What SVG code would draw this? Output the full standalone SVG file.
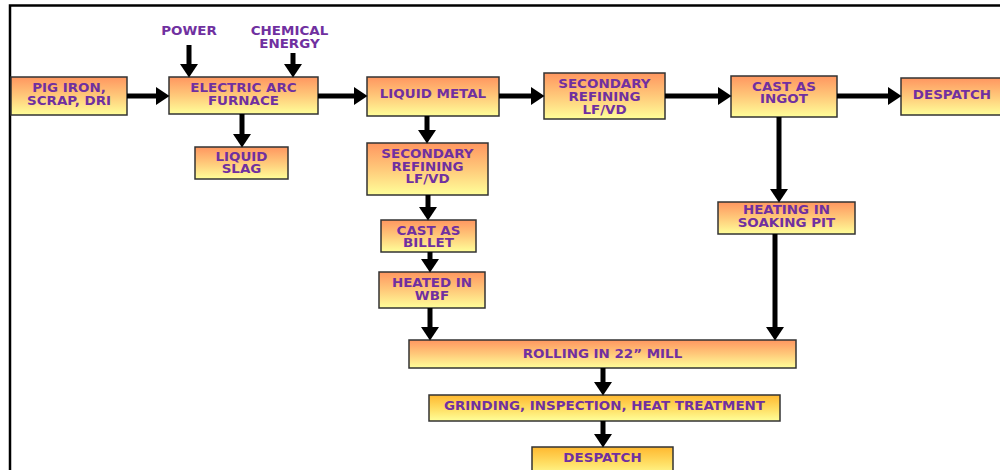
<svg xmlns="http://www.w3.org/2000/svg" width="1000" height="470" viewBox="0 0 1000 470">
<defs>
<linearGradient id="g1" x1="0" y1="0" x2="0" y2="1">
<stop offset="0" stop-color="#FF9660"/>
<stop offset="0.5" stop-color="#FFC97A"/>
<stop offset="1" stop-color="#FFFF99"/>
</linearGradient>
<linearGradient id="g2" x1="0" y1="0" x2="0" y2="1">
<stop offset="0" stop-color="#FFB830"/>
<stop offset="0.5" stop-color="#FFDC60"/>
<stop offset="1" stop-color="#FFFF99"/>
</linearGradient>
<marker id="ah" markerUnits="userSpaceOnUse" markerWidth="14" markerHeight="18" refX="0" refY="9" orient="auto" viewBox="0 0 14 18">
<path d="M0,0 L13.5,9 L0,18 z" fill="#000"/>
</marker>
<style>
.box{fill:url(#g1);stroke:#333;stroke-width:1.5}
.box2{fill:url(#g2);stroke:#333;stroke-width:1.5}
text{font-family:"DejaVu Sans",Verdana,sans-serif;font-weight:bold;font-size:11.5px;fill:#7030A0;text-anchor:middle;transform-box:fill-box;transform-origin:center;transform:scaleX(1.17)}
.c line{stroke:#000;stroke-width:5;marker-end:url(#ah)}
</style>
</defs>
<rect width="1000" height="470" fill="#fff"/>
<path d="M10,470 V5.5 H1000" fill="none" stroke="#000" stroke-width="2.5"/>

<g id="power"><text x="189" y="35">POWER</text></g>
<g id="chemical"><text x="289.5" y="35">CHEMICAL</text><text x="289.5" y="48">ENERGY</text></g>

<g id="pig"><rect class="box" x="11" y="77" width="116" height="38"/><text x="69" y="92.5">PIG IRON,</text><text x="69" y="105.5">SCRAP, DRI</text></g>
<g id="eaf"><rect class="box" x="169" y="77" width="149" height="37"/><text x="243.5" y="92.5">ELECTRIC ARC</text><text x="243.5" y="105">FURNACE</text></g>
<g id="slag"><rect class="box" x="195" y="147" width="93" height="32"/><text x="241.5" y="161">LIQUID</text><text x="241.5" y="173.5">SLAG</text></g>
<g id="liquidmetal"><rect class="box" x="367" y="77" width="132" height="39"/><text x="433" y="98.5">LIQUID METAL</text></g>
<g id="secref1"><rect class="box" x="544" y="73" width="121" height="46"/><text x="604.5" y="88">SECONDARY</text><text x="604.5" y="101">REFINING</text><text x="604.5" y="114">LF/VD</text></g>
<g id="ingot"><rect class="box" x="731" y="76" width="106" height="41"/><text x="784" y="91">CAST AS</text><text x="784" y="103">INGOT</text></g>
<g id="despatch1"><rect class="box" x="901" y="78" width="104" height="37"/><text x="952" y="99">DESPATCH</text></g>
<g id="secref2"><rect class="box" x="367" y="143" width="121" height="52"/><text x="427.5" y="158.5">SECONDARY</text><text x="427.5" y="171">REFINING</text><text x="427.5" y="183.5">LF/VD</text></g>
<g id="soaking"><rect class="box" x="718" y="202" width="137" height="32"/><text x="786.5" y="214">HEATING IN</text><text x="786.5" y="227">SOAKING PIT</text></g>
<g id="billet"><rect class="box" x="381" y="220" width="95" height="32"/><text x="428.5" y="235">CAST AS</text><text x="428.5" y="247.5">BILLET</text></g>
<g id="wbf"><rect class="box" x="379" y="272" width="106" height="36"/><text x="432" y="287">HEATED IN</text><text x="432" y="300">WBF</text></g>
<g id="rolling"><rect class="box" x="409" y="340" width="387" height="28"/><text x="602.5" y="358">ROLLING IN 22” MILL</text></g>
<g id="grinding"><rect class="box2" x="429" y="395" width="351" height="26"/><text x="604.5" y="410">GRINDING, INSPECTION, HEAT TREATMENT</text></g>
<g id="despatch2"><rect class="box2" x="532" y="447" width="141" height="30"/><text x="602.5" y="462.5">DESPATCH</text></g>

<g id="connectors" class="c">
<line x1="127" y1="96" x2="156" y2="96"/>
<line x1="189" y1="45" x2="189" y2="64"/>
<line x1="293" y1="53" x2="293" y2="64"/>
<line x1="242" y1="114" x2="242" y2="134"/>
<line x1="318" y1="96" x2="354" y2="96"/>
<line x1="499" y1="96" x2="531" y2="96"/>
<line x1="665" y1="96" x2="718" y2="96"/>
<line x1="837" y1="96" x2="888" y2="96"/>
<line x1="779" y1="117" x2="779" y2="189"/>
<line x1="427" y1="116" x2="427" y2="130"/>
<line x1="428" y1="195" x2="428" y2="207"/>
<line x1="430" y1="252" x2="430" y2="259"/>
<line x1="430" y1="308" x2="430" y2="327"/>
<line x1="775" y1="234" x2="775" y2="327"/>
<line x1="603" y1="368" x2="603" y2="382"/>
<line x1="603" y1="421" x2="603" y2="434"/>
</g>
</svg>
